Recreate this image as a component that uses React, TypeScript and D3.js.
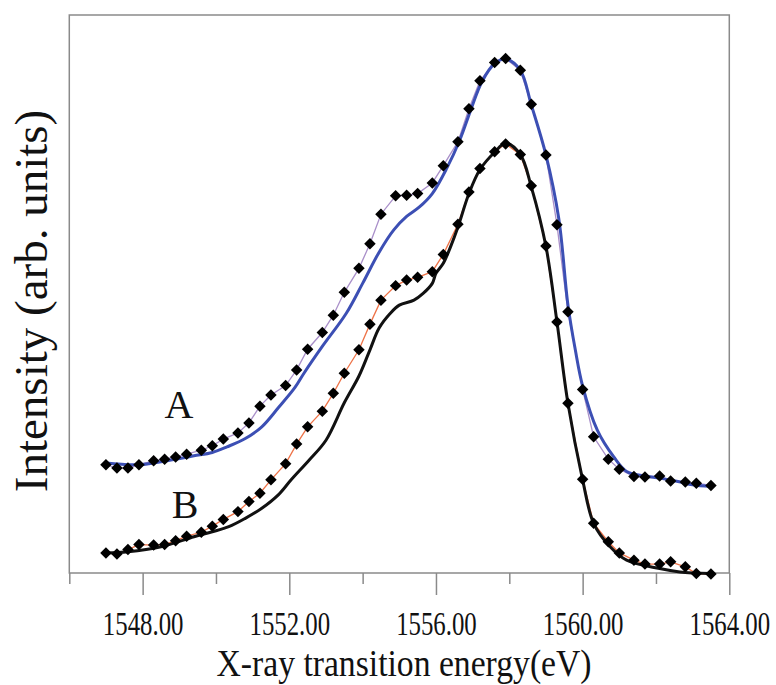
import React, {useRef, useEffect} from 'react'
import * as d3 from 'd3'

// energies (eV) where the fitted points (diamonds) sit, shared by A and B
const markerEnergy = [
  1547.0, 1547.3, 1547.6, 1547.9, 1548.3, 1548.6, 1548.9, 1549.2, 1549.6, 1549.9,
  1550.2, 1550.6, 1550.9, 1551.2, 1551.5, 1551.9, 1552.2, 1552.5, 1552.9, 1553.2,
  1553.5, 1553.9, 1554.2, 1554.5, 1554.9, 1555.2, 1555.5, 1555.9, 1556.2, 1556.6,
  1556.9, 1557.2, 1557.6, 1557.9, 1558.3, 1558.6, 1559.0, 1559.3, 1559.6, 1560.0,
  1560.3, 1560.7, 1561.0, 1561.4, 1561.7, 1562.1, 1562.4, 1562.8, 1563.1, 1563.5
]
const markerA = [
  19.4, 18.8, 18.8, 19.4, 20.1, 20.4, 20.8, 21.3, 22.0, 22.8,
  24.0, 25.1, 26.9, 29.9, 31.9, 33.6, 36.4, 40.1, 43.1, 46.2,
  50.3, 54.6, 59.0, 64.3, 67.6, 67.7, 68.0, 69.9, 73.0, 77.3,
  83.2, 88.2, 91.5, 92.2, 90.1, 84.0, 74.9, 62.4, 46.8, 32.9,
  24.4, 20.4, 18.6, 17.3, 17.2, 17.4, 16.5, 16.3, 16.1, 15.7
]
const markerB = [
  3.6, 3.4, 4.2, 5.1, 5.0, 5.1, 5.8, 6.6, 7.3, 8.4,
  9.6, 11.0, 12.8, 14.3, 16.7, 19.6, 23.1, 26.2, 29.0, 32.2,
  35.8, 40.0, 44.6, 48.9, 51.5, 52.5, 53.0, 54.0, 57.1, 62.5,
  68.3, 72.5, 75.5, 76.9, 75.0, 69.4, 58.6, 45.0, 30.4, 16.8,
  8.9, 5.6, 3.6, 2.3, 1.6, 1.6, 2.0, 1.1, -0.1, -0.2
]

// measured spectrum A (blue)
const blueEnergy = [
  1547.0, 1547.9, 1548.9, 1549.4, 1549.9, 1550.3, 1550.8, 1551.25, 1551.7, 1552.15,
  1552.4, 1552.9, 1553.55, 1554.0, 1554.45, 1554.85, 1555.2, 1555.55, 1555.9, 1556.3,
  1556.65, 1556.95, 1557.25, 1557.6, 1557.9, 1558.3, 1558.6, 1559.0, 1559.35, 1559.6,
  1559.8, 1560.0, 1560.4, 1560.85, 1561.2, 1561.7, 1562.1, 1562.6, 1563.0, 1563.5
]
const blueValue = [
  19.7, 19.4, 20.4, 21.0, 21.6, 22.6, 24.1, 26.2, 29.6, 33.2,
  35.8, 40.6, 46.5, 51.9, 57.5, 61.5, 63.9, 65.6, 68.0, 72.6,
  77.6, 83.0, 88.0, 91.3, 92.1, 90.1, 83.9, 74.9, 63.5, 48.0,
  40.0, 33.5, 25.6, 20.8, 18.2, 17.4, 17.0, 16.4, 15.8, 15.5
]

// measured spectrum B (black)
const blackEnergy = [
  1547.0, 1547.6, 1548.5, 1549.4, 1549.9, 1550.35, 1550.8, 1551.25, 1551.7, 1552.05,
  1552.55, 1553.0, 1553.5, 1553.9, 1554.2, 1554.45, 1554.75, 1555.0, 1555.4, 1555.65,
  1555.9, 1556.0, 1556.2, 1556.4, 1556.6, 1556.9, 1557.2, 1557.6, 1557.9, 1558.3,
  1558.6, 1559.0, 1559.3, 1559.6, 1560.0, 1560.3, 1560.75, 1561.2, 1562.1, 1562.65,
  1563.5
]
const blackValue = [
  3.6, 3.8, 4.7, 6.5, 7.4, 8.3, 9.8, 11.6, 14.0, 16.7,
  20.3, 23.8, 30.5, 35.3, 40.0, 43.9, 46.5, 48.0, 48.9, 50.1,
  51.9, 53.7, 55.5, 58.5, 62.0, 68.0, 72.3, 75.4, 77.0, 75.0,
  69.2, 58.5, 45.0, 30.4, 16.7, 8.9, 4.7, 2.3, 0.8, 0.2,
  -0.1
]

const majorTicks = [1548, 1552, 1556, 1560, 1564]
const minorTicks = [1546, 1550, 1554, 1558, 1562]

type Pt = {e: number; v: number}
const zip = (es: number[], vs: number[]): Pt[] => es.map((e, i) => ({e, v: vs[i]}))

function App() {
  const svgRef = useRef<SVGSVGElement>(null)

  useEffect(() => {
    const svg = d3.select(svgRef.current)
    svg.selectAll('*').remove()

    const left = 69.3
    const right = 729.3
    const top = 15
    const bottom = 573
    const serif = '"Liberation Serif", "Times New Roman", serif'
    const frameColor = '#8a8a8a'

    const x = d3.scaleLinear().domain([1546, 1564]).range([left, right])
    const y = d3.scaleLinear().domain([0, 100]).range([bottom, top])

    // frame
    svg
      .append('rect')
      .attr('x', left)
      .attr('y', top)
      .attr('width', right - left)
      .attr('height', bottom - top)
      .attr('fill', 'none')
      .attr('stroke', frameColor)
      .attr('stroke-width', 1.5)

    // minor ticks
    const minor = svg
      .append('g')
      .attr('transform', `translate(0, ${bottom})`)
      .call(d3.axisBottom(x).tickValues(minorTicks).tickSize(11).tickFormat(() => ''))
    minor.select('.domain').remove()
    minor.selectAll('line').attr('stroke', frameColor).attr('stroke-width', 1.5)

    // major ticks + labels (the original font is condensed)
    const major = svg
      .append('g')
      .attr('transform', `translate(0, ${bottom})`)
      .call(d3.axisBottom(x).tickValues(majorTicks).tickSize(22).tickFormat(d3.format('.2f')))
    major.select('.domain').remove()
    major.selectAll('line').attr('stroke', frameColor).attr('stroke-width', 1.5)
    major
      .selectAll('text')
      .attr('y', 62)
      .attr('dy', 0)
      .attr('fill', '#111')
      .attr('transform', 'scale(0.73, 1)')
      .style('font-family', serif)
      .style('font-size', '34px')

    const dataA = zip(markerEnergy, markerA)
    const dataB = zip(markerEnergy, markerB)

    const thin = d3
      .line<Pt>()
      .curve(d3.curveLinear)
      .x(d => x(d.e))
      .y(d => y(d.v))

    const smooth = d3
      .line<Pt>()
      .curve(d3.curveCatmullRom.alpha(0.5))
      .x(d => x(d.e))
      .y(d => y(d.v))

    svg
      .append('path')
      .datum(dataA)
      .attr('d', thin)
      .attr('fill', 'none')
      .attr('stroke', '#a98fc9')
      .attr('stroke-width', 1.3)

    svg
      .append('path')
      .datum(dataB)
      .attr('d', thin)
      .attr('fill', 'none')
      .attr('stroke', '#ee7348')
      .attr('stroke-width', 1.3)

    svg
      .append('path')
      .datum(zip(blueEnergy, blueValue))
      .attr('d', smooth)
      .attr('fill', 'none')
      .attr('stroke', '#3c4fb4')
      .attr('stroke-width', 3)

    svg
      .append('path')
      .datum(zip(blackEnergy, blackValue))
      .attr('d', smooth)
      .attr('fill', 'none')
      .attr('stroke', '#111')
      .attr('stroke-width', 3)

    const diamond = d3.symbol().type(d3.symbolSquare).size(66)
    svg
      .append('g')
      .selectAll('path')
      .data(dataA.concat(dataB))
      .join('path')
      .attr('d', diamond)
      .attr('transform', d => `translate(${x(d.e)}, ${y(d.v)}) rotate(45)`)
      .attr('fill', '#000')

    // series labels
    svg
      .append('text')
      .attr('x', 179)
      .attr('y', 418)
      .attr('text-anchor', 'middle')
      .style('font-family', serif)
      .style('font-size', '40px')
      .attr('fill', '#111')
      .text('A')

    svg
      .append('text')
      .attr('x', 185)
      .attr('y', 518)
      .attr('text-anchor', 'middle')
      .style('font-family', serif)
      .style('font-size', '40px')
      .attr('fill', '#111')
      .text('B')

    // axis titles
    svg
      .append('g')
      .attr('transform', 'translate(404, 676) scale(0.91, 1)')
      .append('text')
      .attr('text-anchor', 'middle')
      .style('font-family', serif)
      .style('font-size', '37px')
      .attr('fill', '#111')
      .text('X-ray transition energy(eV)')

    svg
      .append('text')
      .attr('transform', 'translate(47, 301) rotate(-90)')
      .attr('text-anchor', 'middle')
      .style('font-family', serif)
      .style('font-size', '47px')
      .attr('fill', '#111')
      .text('Intensity (arb. units)')
  }, [])

  return (
    <svg
      ref={svgRef}
      width={776}
      height={685}
      style={{position: 'absolute', left: 0, top: 0, background: '#fff'}}
    />
  )
}

export default App
